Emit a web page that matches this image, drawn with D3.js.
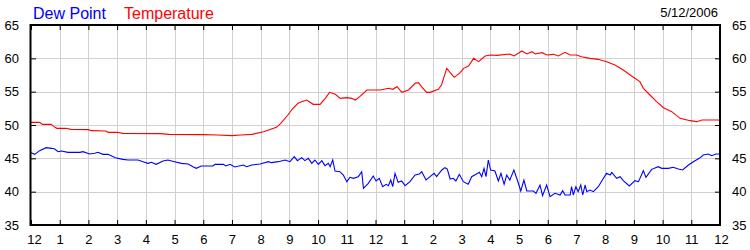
<!DOCTYPE html>
<html><head><meta charset="utf-8">
<script src="https://cdn.jsdelivr.net/npm/d3@7"></script>
<style>
html,body{margin:0;padding:0;background:#fff;}
svg{display:block;font-family:"Liberation Sans",Arial,sans-serif;}
</style></head>
<body>
<svg id="c" width="750" height="250"></svg>
<script>
const hourLabels = ["12","1","2","3","4","5","6","7","8","9","10","11","12","1","2","3","4","5","6","7","8","9","10","11","12"];
const yTicks = [35,40,45,50,55,60,65];
const dateLabel = "5/12/2006";
const seriesNames = ["Dew Point","Temperature"];
const seriesColors = ["#0000ff","#ff0000"];

const tempHours = [0,0.3,0.4,0.7,0.8,0.9,1.2,1.4,2.0,2.1,2.6,2.7,3.0,3.2,4.5,4.8,6.0,6.5,7.0,7.3,7.7,8.1,8.55,8.7,8.95,9.1,9.3,9.43,9.6,9.83,10.07,10.25,10.4,10.6,10.77,11.0,11.17,11.3,11.45,11.7,12.16,12.46,12.6,12.75,12.92,13.15,13.38,13.5,13.6,13.78,13.9,14.19,14.3,14.48,14.74,14.95,15.07,15.24,15.42,15.59,15.82,16.0,16.23,16.67,16.83,17.1,17.27,17.45,17.56,17.8,17.97,18.2,18.37,18.6,18.78,19.0,19.18,19.47,19.76,20.05,20.34,20.63,20.92,21.21,21.33,21.56,21.79,22.03,22.32,22.61,22.96,23.19,23.37,24];
const tempValues = [50.4,50.4,50.1,50.1,49.75,49.5,49.5,49.35,49.3,49.15,49.1,48.9,48.9,48.75,48.7,48.6,48.55,48.5,48.4,48.5,48.6,49.0,49.65,50.25,51.5,52.4,53.25,53.5,53.75,53.1,53.1,54.0,54.9,54.6,54.0,54.1,54.0,53.75,54.25,55.25,55.25,55.5,55.35,55.75,54.9,55.25,56.25,56.35,55.75,54.9,54.9,55.35,56.0,58.5,57.15,57.85,58.5,58.85,60.0,59.5,60.35,60.5,60.45,60.65,60.35,61.1,60.65,61.0,60.65,60.85,60.5,60.6,60.35,60.9,60.5,60.5,60.25,60.0,59.85,59.5,59.0,58.25,57.35,56.5,55.5,54.5,53.5,52.6,52.0,51.0,50.65,50.5,50.75,50.75];

const dewHours = [0,0.13,0.3,0.53,0.71,0.83,0.94,1.06,1.29,1.7,1.81,2.04,2.22,2.33,2.51,2.68,2.94,3.2,3.38,3.73,3.9,4.08,4.19,4.36,4.6,4.77,5.0,5.24,5.47,5.64,5.76,5.93,6.17,6.34,6.41,6.7,6.79,6.93,7.1,7.4,7.51,7.69,7.98,8.27,8.38,8.61,8.85,9.02,9.17,9.28,9.43,9.54,9.66,9.78,9.89,10.01,10.13,10.24,10.36,10.42,10.51,10.59,10.76,10.88,11.0,11.11,11.23,11.4,11.52,11.58,11.75,11.92,12.02,12.13,12.25,12.37,12.45,12.53,12.6,12.68,12.79,12.91,13.03,13.2,13.38,13.53,13.61,13.76,13.9,14.04,14.13,14.31,14.42,14.5,14.6,14.71,14.8,14.92,15.06,15.23,15.35,15.5,15.62,15.7,15.78,15.85,15.93,16.01,16.16,16.28,16.37,16.48,16.57,16.68,16.82,16.94,17.06,17.17,17.27,17.5,17.59,17.73,17.82,17.96,18.08,18.25,18.43,18.52,18.6,18.78,18.83,18.89,18.98,19.06,19.15,19.22,19.3,19.36,19.47,19.59,19.76,19.94,20.05,20.17,20.23,20.4,20.52,20.63,20.84,21.04,21.16,21.33,21.42,21.62,21.85,21.97,22.2,22.37,22.55,22.7,22.9,23.13,23.28,23.42,23.59,23.71,23.86,24];
const dewValues = [45.85,45.6,46.15,46.6,46.5,46.4,46.0,46.1,45.9,45.9,46.0,45.65,45.75,45.9,45.6,45.6,45.1,44.85,44.75,44.75,44.5,44.25,44.4,44.1,44.6,44.75,44.5,44.25,44.15,43.75,43.5,43.85,43.85,43.85,44.1,44.1,43.85,44.1,43.7,44.0,43.75,44.0,44.15,44.5,44.35,44.5,44.75,44.5,45.25,44.65,45.1,44.65,45.0,44.25,44.75,44.1,44.65,43.9,44.25,43.75,44.75,43.1,43.0,42.5,41.5,42.15,42.0,42.25,43.0,40.5,41.25,42.35,41.6,42.0,40.75,41.1,40.9,41.75,40.75,42.75,41.4,41.6,40.9,41.5,42.5,42.65,43.0,41.75,42.25,42.75,42.25,43.25,43.6,43.4,41.9,42.0,41.6,42.6,41.5,41.1,42.25,42.6,42.9,42.25,43.5,42.25,44.75,43.25,43.1,41.6,42.75,41.1,42.5,41.75,43.25,41.75,40.1,41.75,40.1,40.1,39.75,41.0,39.4,41.0,39.25,39.75,39.5,40.15,39.5,39.5,40.75,39.5,40.75,40.0,41.0,39.5,41.0,40.0,40.25,40.0,40.75,42.0,42.75,42.5,42.9,42.0,42.25,41.65,40.85,41.65,41.5,43.15,42.15,43.35,43.75,43.5,43.5,43.65,43.4,43.25,44.0,44.65,45.0,45.5,45.65,45.4,45.65,45.65];

const L = 31, R = 720, T = 25, B = 225;
const svg = d3.select("#c");
const x = d3.scaleLinear().domain([0,24]).range([L,R]);
const y = d3.scaleLinear().domain([35,65]).range([B,T]);
const hourTicks = d3.range(0,25);

// grid
const g = svg.append("g");
g.selectAll("line.v").data(hourTicks.slice(1,-1)).join("line")
  .attr("x1",d=>Math.round(x(d))+0.5).attr("x2",d=>Math.round(x(d))+0.5)
  .attr("y1",T).attr("y2",B).attr("stroke","#d0d0d0").attr("stroke-width",1);
g.selectAll("line.h").data(yTicks.slice(1,-1)).join("line")
  .attr("y1",d=>Math.round(y(d))+0.5).attr("y2",d=>Math.round(y(d))+0.5)
  .attr("x1",L).attr("x2",R).attr("stroke","#d0d0d0").attr("stroke-width",1);

// series
const line = d3.line().x(d=>x(d[0])).y(d=>y(d[1]));
svg.append("path").datum(dewHours.map((h,i)=>[h,dewValues[i]]))
  .attr("d",line).attr("fill","none").attr("stroke",seriesColors[0]).attr("stroke-width",1.1);
svg.append("path").datum(tempHours.map((h,i)=>[h,tempValues[i]]))
  .attr("d",line).attr("fill","none").attr("stroke",seriesColors[1]).attr("stroke-width",1.1);

// axes
const fmtH = (d,i)=>hourLabels[d];
const axB = svg.append("g").attr("transform",`translate(0,${B})`)
  .call(d3.axisBottom(x).tickValues(hourTicks).tickFormat(fmtH).tickSizeInner(-5).tickSizeOuter(0).tickPadding(10));
const axT = svg.append("g").attr("transform",`translate(0,${T})`)
  .call(d3.axisTop(x).tickValues(hourTicks).tickFormat("").tickSizeInner(-5).tickSizeOuter(0));
const axL = svg.append("g").attr("transform",`translate(${L},0)`)
  .call(d3.axisLeft(y).tickValues(yTicks).tickSizeInner(-5).tickSizeOuter(0).tickPadding(12));
const axRr = svg.append("g").attr("transform",`translate(${R},0)`)
  .call(d3.axisRight(y).tickValues(yTicks).tickSizeInner(-5).tickSizeOuter(0).tickPadding(12));
[axB,axT,axL,axRr].forEach(a=>{
  a.select(".domain").remove();
  a.selectAll("line").attr("stroke","#000");
  a.selectAll("text").attr("font-size",13).attr("fill","#000").attr("font-family","Liberation Sans, Arial, sans-serif");
});
axB.selectAll(".tick").filter(d=>d===0).select("text").attr("dx",3);
axB.selectAll(".tick").filter(d=>d===24).select("text").attr("dx",1);

// frame
svg.append("rect").attr("x",L-0.5).attr("y",T).attr("width",R-L+0.5).attr("height",B-T)
  .attr("fill","none").attr("stroke","#000").attr("stroke-width",2);

// title / legend
svg.append("text").attr("x",33).attr("y",18.5).attr("font-size",16).attr("fill",seriesColors[0]).text(seriesNames[0]);
svg.append("text").attr("x",124).attr("y",18.5).attr("font-size",16).attr("fill",seriesColors[1]).text(seriesNames[1]);
svg.append("text").attr("x",718).attr("y",17).attr("font-size",13).attr("text-anchor","end").attr("fill","#000").text(dateLabel);
</script>
</body></html>
